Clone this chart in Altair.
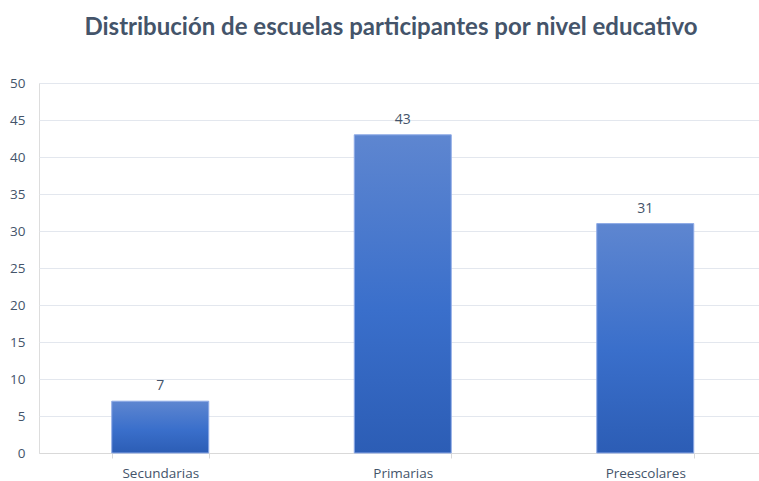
import altair as alt
import pandas as pd

categories = ["Secundarias", "Primarias", "Preescolares"]
values = [7, 43, 31]
y_ticks = [0, 5, 10, 15, 20, 25, 30, 35, 40, 45, 50]

df = pd.DataFrame({"nivel": categories, "escuelas": values})

TEXT = "#44546a"
FONT = "Open Sans"

x = alt.X(
    "nivel:N",
    sort=categories,
    title=None,
    scale=alt.Scale(range=[0, 727.5], paddingInner=0.6, paddingOuter=0.3),
    axis=alt.Axis(
        labelAngle=0,
        labelFont=FONT,
        labelFontSize=13.5,
        labelColor=TEXT,
        labelPadding=8,
        domainColor="#d9d9d9",
        tickColor="#d9d9d9",
        tickSize=5,
        tickBand="extent",
        grid=False,
    ),
)

y = alt.Y(
    "escuelas:Q",
    title=None,
    scale=alt.Scale(domain=[0, 50]),
    axis=alt.Axis(
        values=y_ticks,
        labelOverlap=False,
        labelFont=FONT,
        labelFontSize=13.5,
        labelColor=TEXT,
        labelPadding=14,
        ticks=False,
        domain=False,
        gridColor="#e3e7ee",
        gridWidth=1,
    ),
)

base = alt.Chart(df)

bars = base.mark_bar(
    fill=alt.Gradient(
        gradient="linear",
        stops=[
            alt.GradientStop(color="#5e86d0", offset=0),
            alt.GradientStop(color="#3a6fcb", offset=0.55),
            alt.GradientStop(color="#2c5db5", offset=1),
        ],
        x1=0, x2=0, y1=0, y2=1,
    ),
    stroke="#8eaae6",
    strokeWidth=1,
).encode(x=x, y=y)

labels = base.mark_text(
    dy=-8, baseline="bottom", font=FONT, fontSize=14, color=TEXT
).encode(x=x, y=y, text="escuelas:Q")

chart = (
    alt.layer(bars, labels)
    .properties(
        width=720,
        height=370,
        autosize=alt.AutoSizeParams(type="none"),
        padding={"left": 39, "top": 83, "right": 0, "bottom": 28},
        title=alt.TitleParams(
            "Distribución de escuelas participantes por nivel educativo",
            font="Lato",
            fontSize=24,
            fontWeight="bold",
            color=TEXT,
            anchor="middle",
            frame="group",
            offset=36,
            dx=-8,
        ),
    )
    .configure_view(strokeWidth=0, stroke="transparent")
    .configure_axisY(domain=False)
    .configure_axisX(grid=False)
    .configure(background="white")
)

chart.save("out.html", embed_options={"renderer": "svg", "actions": False})
